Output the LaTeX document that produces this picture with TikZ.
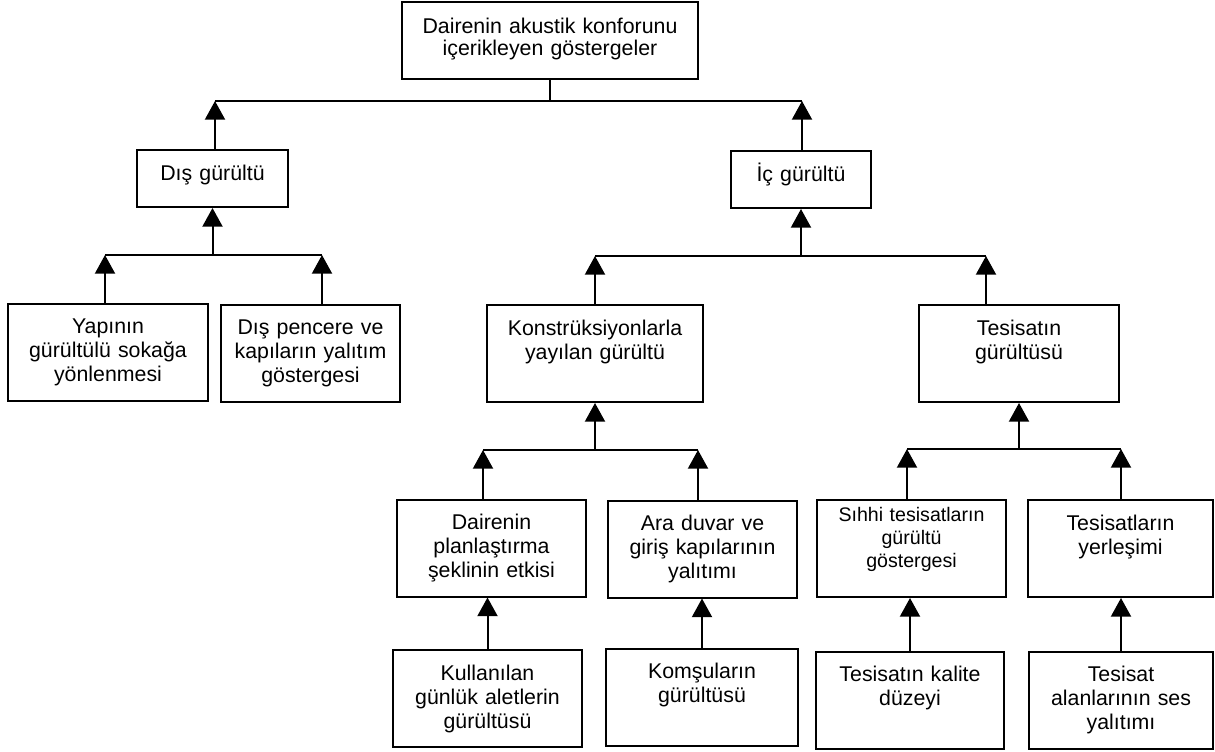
\documentclass[tikz,border=0pt]{standalone}
\usepackage{fontspec}
\setmainfont{Liberation Sans}
\usetikzlibrary{arrows.meta, positioning}

\begin{document}
\begin{tikzpicture}[x=0.75pt,y=-0.75pt]
    \tikzstyle{every node} = [font=\fontsize{16}{18}\selectfont]
    \tikzstyle{block} = [draw, rectangle, line width=1.5pt, inner sep=0pt, align=center, text width=141.75pt, text height=22.5pt, text depth=50.25pt]
    \tikzstyle{low} = [text depth=20.25pt]
    \tikzstyle{line} = [line width=1.5pt]
    \tikzstyle{up} = [line width=1.5pt, -{Triangle[width=15pt,length=14pt]}]
    \useasboundingbox (0,0) rectangle (1215,751);

    % place nodes
    \node[block, text width=222pt, text height=23.25pt, text depth=34.5pt, font=\fontsize{16}{16.5}\selectfont](top) at (550,40.5){Dairenin akustik konforunu\\içerikleyen göstergeler};
    \node[block, low, text width=113.25pt](dis) at (212.5,178.5){Dış gürültü};
    \node[block, low, text width=105pt](ic) at (801,179.5){İç gürültü};
    \node[block, text width=150pt](yapi) at (108,352){Yapının\\gürültülü sokağa\\yönlenmesi};
    \node[block, text width=134.25pt](pencere) at (310.5,353){Dış pencere ve\\kapıların yalıtım\\göstergesi};
    \node[block, text width=162pt](konst) at (595,353.5){Konstrüksiyonlarla\\yayılan gürültü};
    \node[block, text width=150pt](tesgur) at (1019,353.5){Tesisatın\\gürültüsü};
    \node[block](planla) at (491.5,548){Dairenin\\planlaştırma\\şeklinin etkisi};
    \node[block](aradv) at (702.5,549){Ara duvar ve\\giriş kapılarının\\yalıtımı};
    \node[block, text height=15.75pt, text depth=57pt, font=\fontsize{14.7}{17.25}\selectfont](sihhi) at (911.5,548.5){Sıhhi tesisatların\\gürültü\\göstergesi};
    \node[block, text width=138.75pt](yerles) at (1120.5,548.5){Tesisatların\\yerleşimi};
    \node[block](kullan) at (487.5,698.5){Kullanılan\\günlük aletlerin\\gürültüsü};
    \node[block, text width=144pt](komsu) at (702,697){Komşuların\\gürültüsü};
    \node[block, text width=141pt](kalite) at (910,700){Tesisatın kalite\\düzeyi};
    \node[block, text width=138pt](alan) at (1121,700){Tesisat\\alanlarının ses\\yalıtımı};

    % bus corners
    \coordinate (t1) at (215,101);
    \coordinate (t2) at (802,101);
    \coordinate (d1) at (105,255);
    \coordinate (d2) at (322,255);
    \coordinate (i1) at (595,256);
    \coordinate (i2) at (986,256);
    \coordinate (k1) at (483,450);
    \coordinate (k2) at (698,450);
    \coordinate (s1) at (907,449);
    \coordinate (s2) at (1121,449);

    % Connections
    \draw[line] (top.south) -- (top.south |- t1);
    \draw[line] (t1) -- (t2);
    \draw[up] (dis.north -| t1) -- (t1);
    \draw[up] (ic.north -| t2) -- (t2);

    \draw[line] (d1) -- (d2);
    \draw[up] (dis.south |- d1) -- (dis.south);
    \draw[up] (yapi.north -| d1) -- (d1);
    \draw[up] (pencere.north -| d2) -- (d2);

    \draw[line] (i1) -- (i2);
    \draw[up] (ic.south |- i1) -- (ic.south);
    \draw[up] (konst.north -| i1) -- (i1);
    \draw[up] (tesgur.north -| i2) -- (i2);

    \draw[line] (k1) -- (k2);
    \draw[up] (konst.south |- k1) -- (konst.south);
    \draw[up] (planla.north -| k1) -- (k1);
    \draw[up] (aradv.north -| k2) -- (k2);

    \draw[line] (s1) -- (s2);
    \draw[up] (tesgur.south |- s1) -- (tesgur.south);
    \draw[up] (sihhi.north -| s1) -- (s1);
    \draw[up] (yerles.north -| s2) -- (s2);

    \draw[up] (kullan.north) -- (kullan.north |- planla.south);
    \draw[up] (komsu.north) -- (komsu.north |- aradv.south);
    \draw[up] (kalite.north) -- (kalite.north |- sihhi.south);
    \draw[up] (alan.north) -- (alan.north |- yerles.south);

\end{tikzpicture}
\end{document}
